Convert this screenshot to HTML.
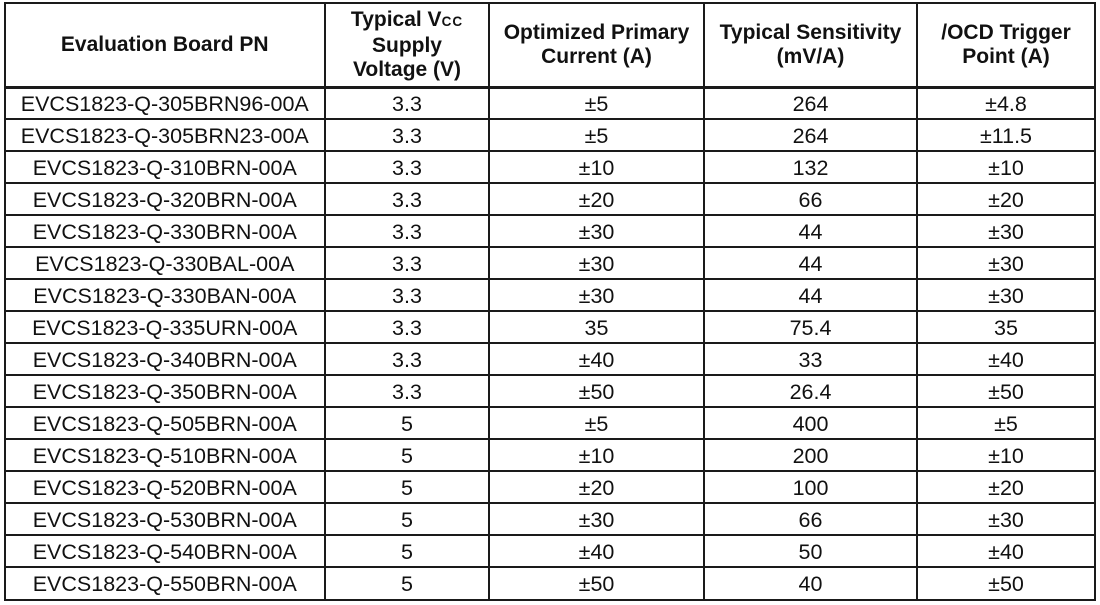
<!DOCTYPE html>
<html>
<head>
<meta charset="utf-8">
<style>
  html,body{margin:0;padding:0;background:#fff;}
  body{width:1100px;height:605px;position:relative;overflow:hidden;
       font-family:"Liberation Sans",Arial,sans-serif;color:#111;}
  .v{position:absolute;top:2px;height:599px;width:2px;background:#1a1a1a;}
  .h{position:absolute;left:3.5px;width:1592.5px;height:2px;background:#1a1a1a;}
  .hc{position:absolute;top:4px;height:82px;display:flex;align-items:center;justify-content:center;
      text-align:center;font-weight:bold;font-size:21px;line-height:24px;}
  .row{position:absolute;left:0;width:1100px;height:32px;}
  .row span{position:absolute;top:0;height:32px;line-height:32px;text-align:center;font-size:21.5px;white-space:nowrap;}
  .c1{left:5.5px;width:318.5px;}
  .c2{left:326px;width:162px;}
  .c3{left:490px;width:213px;}
  .c4{left:705px;width:211px;}
  .c5{left:918px;width:176px;}
  .sub{font-size:13.5px;letter-spacing:1px;}
</style>
</head>
<body>
<!-- header cells -->
<div class="hc c1" style="position:absolute;">Evaluation Board PN</div>
<div class="hc c2" style="position:absolute;"><div>Typical V<span class="sub">CC</span><br>Supply<br>Voltage (V)</div></div>
<div class="hc c3" style="position:absolute;"><div>Optimized Primary<br>Current (A)</div></div>
<div class="hc c4" style="position:absolute;"><div>Typical Sensitivity<br>(mV/A)</div></div>
<div class="hc c5" style="position:absolute;"><div>/OCD Trigger<br>Point (A)</div></div>

<!-- rows -->
<div class="row" style="top:87.5px"><span class="c1">EVCS1823-Q-305BRN96-00A</span><span class="c2">3.3</span><span class="c3">±5</span><span class="c4">264</span><span class="c5">±4.8</span></div>
<div class="row" style="top:119.5px"><span class="c1">EVCS1823-Q-305BRN23-00A</span><span class="c2">3.3</span><span class="c3">±5</span><span class="c4">264</span><span class="c5">±11.5</span></div>
<div class="row" style="top:151.6px"><span class="c1">EVCS1823-Q-310BRN-00A</span><span class="c2">3.3</span><span class="c3">±10</span><span class="c4">132</span><span class="c5">±10</span></div>
<div class="row" style="top:183.7px"><span class="c1">EVCS1823-Q-320BRN-00A</span><span class="c2">3.3</span><span class="c3">±20</span><span class="c4">66</span><span class="c5">±20</span></div>
<div class="row" style="top:215.7px"><span class="c1">EVCS1823-Q-330BRN-00A</span><span class="c2">3.3</span><span class="c3">±30</span><span class="c4">44</span><span class="c5">±30</span></div>
<div class="row" style="top:247.8px"><span class="c1">EVCS1823-Q-330BAL-00A</span><span class="c2">3.3</span><span class="c3">±30</span><span class="c4">44</span><span class="c5">±30</span></div>
<div class="row" style="top:279.9px"><span class="c1">EVCS1823-Q-330BAN-00A</span><span class="c2">3.3</span><span class="c3">±30</span><span class="c4">44</span><span class="c5">±30</span></div>
<div class="row" style="top:311.9px"><span class="c1">EVCS1823-Q-335URN-00A</span><span class="c2">3.3</span><span class="c3">35</span><span class="c4">75.4</span><span class="c5">35</span></div>
<div class="row" style="top:344.0px"><span class="c1">EVCS1823-Q-340BRN-00A</span><span class="c2">3.3</span><span class="c3">±40</span><span class="c4">33</span><span class="c5">±40</span></div>
<div class="row" style="top:376.1px"><span class="c1">EVCS1823-Q-350BRN-00A</span><span class="c2">3.3</span><span class="c3">±50</span><span class="c4">26.4</span><span class="c5">±50</span></div>
<div class="row" style="top:408.1px"><span class="c1">EVCS1823-Q-505BRN-00A</span><span class="c2">5</span><span class="c3">±5</span><span class="c4">400</span><span class="c5">±5</span></div>
<div class="row" style="top:440.2px"><span class="c1">EVCS1823-Q-510BRN-00A</span><span class="c2">5</span><span class="c3">±10</span><span class="c4">200</span><span class="c5">±10</span></div>
<div class="row" style="top:472.2px"><span class="c1">EVCS1823-Q-520BRN-00A</span><span class="c2">5</span><span class="c3">±20</span><span class="c4">100</span><span class="c5">±20</span></div>
<div class="row" style="top:504.3px"><span class="c1">EVCS1823-Q-530BRN-00A</span><span class="c2">5</span><span class="c3">±30</span><span class="c4">66</span><span class="c5">±30</span></div>
<div class="row" style="top:536.4px"><span class="c1">EVCS1823-Q-540BRN-00A</span><span class="c2">5</span><span class="c3">±40</span><span class="c4">50</span><span class="c5">±40</span></div>
<div class="row" style="top:568.4px"><span class="c1">EVCS1823-Q-550BRN-00A</span><span class="c2">5</span><span class="c3">±50</span><span class="c4">40</span><span class="c5">±50</span></div>

<!-- vertical lines -->
<div class="v" style="left:3.5px"></div>
<div class="v" style="left:324px"></div>
<div class="v" style="left:488px"></div>
<div class="v" style="left:703px"></div>
<div class="v" style="left:916px"></div>
<div class="v" style="left:1094px"></div>

<!-- horizontal lines -->
<div class="h" style="top:2px;width:1092.5px"></div>
<div class="h" style="top:85.5px;height:3px;width:1092.5px"></div>
<div class="h" style="top:117.6px;width:1092.5px"></div>
<div class="h" style="top:149.6px;width:1092.5px"></div>
<div class="h" style="top:181.7px;width:1092.5px"></div>
<div class="h" style="top:213.7px;width:1092.5px"></div>
<div class="h" style="top:245.8px;width:1092.5px"></div>
<div class="h" style="top:277.9px;width:1092.5px"></div>
<div class="h" style="top:309.9px;width:1092.5px"></div>
<div class="h" style="top:342.0px;width:1092.5px"></div>
<div class="h" style="top:374.1px;width:1092.5px"></div>
<div class="h" style="top:406.1px;width:1092.5px"></div>
<div class="h" style="top:438.2px;width:1092.5px"></div>
<div class="h" style="top:470.2px;width:1092.5px"></div>
<div class="h" style="top:502.3px;width:1092.5px"></div>
<div class="h" style="top:534.4px;width:1092.5px"></div>
<div class="h" style="top:566.4px;width:1092.5px"></div>
<div class="h" style="top:599px;width:1092.5px"></div>
</body>
</html>
